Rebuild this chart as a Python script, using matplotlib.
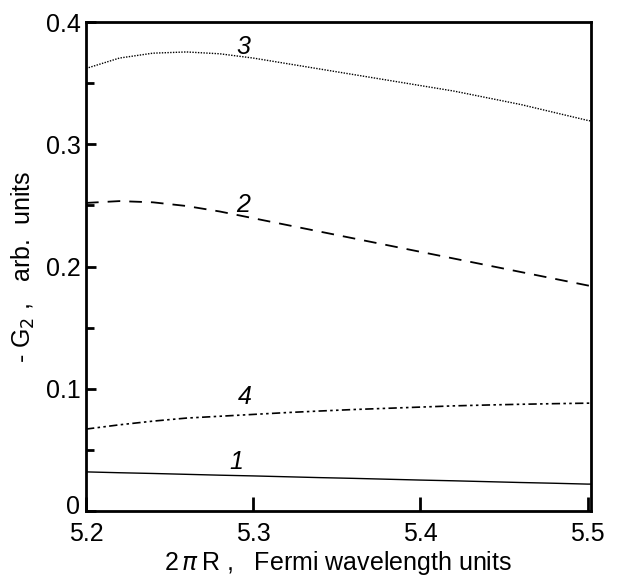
import matplotlib
matplotlib.use("Agg")
import matplotlib.pyplot as plt
import matplotlib.transforms as mtransforms
from matplotlib.ticker import MultipleLocator, FixedLocator

plt.rcParams['font.family'] = ['Liberation Sans', 'DejaVu Sans']

# -G2 versus 2*pi*R (in Fermi wavelength units) for four cases
x = [5.20, 5.22, 5.24, 5.26, 5.28, 5.30, 5.32, 5.34, 5.36, 5.38,
     5.40, 5.42, 5.44, 5.46, 5.48, 5.50, 5.502]
g3 = [0.362, 0.3705, 0.3745, 0.3755, 0.3740, 0.3705, 0.3660, 0.3615, 0.3570,
      0.3525, 0.3480, 0.3435, 0.3380, 0.3325, 0.3260, 0.3195, 0.3190]
g2 = [0.252, 0.2535, 0.2525, 0.2495, 0.2450, 0.2395, 0.2340, 0.2285, 0.2230,
      0.2175, 0.2120, 0.2065, 0.2010, 0.1955, 0.1900, 0.1845, 0.1840]
g4 = [0.067, 0.0705, 0.0735, 0.0760, 0.0775, 0.0790, 0.0805, 0.0818, 0.0830,
      0.0840, 0.0850, 0.0860, 0.0867, 0.0873, 0.0878, 0.0882, 0.0882]
g1 = [0.0320, 0.0313, 0.0307, 0.0300, 0.0293, 0.0287, 0.0280, 0.0273, 0.0267,
      0.0260, 0.0253, 0.0247, 0.0240, 0.0233, 0.0227, 0.0220, 0.0220]

curve_labels = ["1", "2", "3", "4"]
label_pos_x = [5.290, 5.294, 5.294, 5.295]
label_pos_y = [0.040, 0.2505, 0.3795, 0.0935]

xticks = [5.2, 5.3, 5.4, 5.5]
xticklabels = ["5.2", "5.3", "5.4", "5.5"]
yticks = [0, 0.1, 0.2, 0.3, 0.4]
yticklabels = ["0", "0.1", "0.2", "0.3", "0.4"]

fig = plt.figure(figsize=(6.32, 5.77), dpi=100)
ax = fig.add_axes([86 / 632, 1 - 511 / 577, (591 - 86) / 632, (511 - 22) / 577])

ax.plot(x, g1, color='black', lw=1.0, ls='-')
ax.plot(x, g2, color='black', lw=1.3, ls=(0, (7, 5)))
ax.plot(x, g3, color='black', lw=1.0, ls=(0, (1, 1)))
ax.plot(x, g4, color='black', lw=1.2, ls=(0, (5, 2, 1.5, 2, 1.5, 2)))

for t, lx, ly in zip(curve_labels, label_pos_x, label_pos_y):
    ax.text(lx, ly, t, fontsize=18, style='italic', ha='center', va='center')

ax.set_xlim(5.2, 5.502)
ax.set_ylim(0, 0.4)
ax.xaxis.set_major_locator(FixedLocator(xticks))
ax.set_xticklabels(xticklabels)
ax.yaxis.set_major_locator(FixedLocator(yticks))
ax.set_yticklabels(yticklabels)
ax.yaxis.set_minor_locator(MultipleLocator(0.05))

ax.tick_params(axis='both', which='major', direction='in', labelsize=18,
               width=2, length=10)
ax.tick_params(axis='x', which='major', pad=8)
ax.tick_params(axis='y', which='major', length=7, pad=4)
ax.tick_params(axis='y', which='minor', direction='in', width=2, length=6)
for s in ax.spines.values():
    s.set_linewidth(2)

# lift the "0" on the y axis slightly so it clears the "5.2" below it
zero_label = ax.get_yticklabels()[0]
zero_label.set_transform(zero_label.get_transform() +
                         mtransforms.ScaledTranslation(0, 5 / 72, fig.dpi_scale_trans))

ax.set_xlabel(r"2$\,\pi\,$R ,   Fermi wavelength units", fontsize=18, labelpad=2)
ax.set_ylabel(r"- G$_2$ ,   arb.  units", fontsize=18, labelpad=6)

fig.savefig("out.png", dpi=100)
